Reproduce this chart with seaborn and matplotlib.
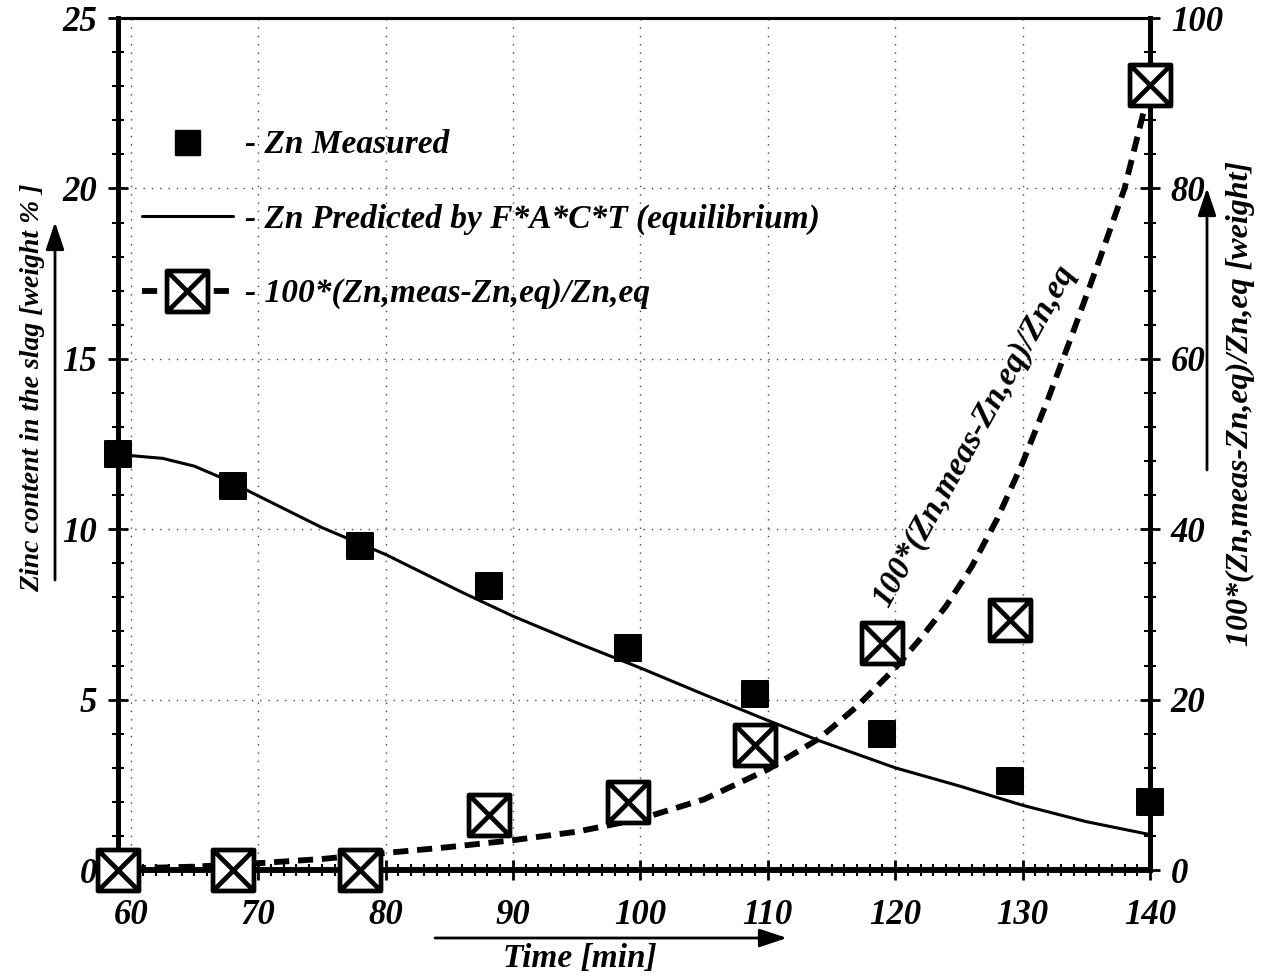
import numpy as np
import pandas as pd
import matplotlib
matplotlib.use("Agg")
import matplotlib.pyplot as plt
from matplotlib.path import Path
from matplotlib.lines import Line2D
from matplotlib.patches import FancyArrowPatch
import seaborn as sns

# ---------------- data ----------------
meas_time = [59.0, 68.0, 78.0, 88.1, 99.0, 109.0, 119.0, 129.0, 140.0]
meas_zn = [12.2, 11.27, 9.51, 8.33, 6.52, 5.18, 3.99, 2.6, 2.0]

pred_time = [59, 60, 62.5, 65, 67.5, 70, 75, 80, 86, 90, 95, 100, 105, 110,
             114, 120, 125, 130, 135, 140]
pred_zn = [12.2, 12.16, 12.08, 11.85, 11.45, 10.98, 10.05, 9.26, 8.15, 7.45,
           6.67, 5.93, 5.15, 4.39, 3.8, 3.0, 2.47, 1.9, 1.42, 1.04]

dev_time = [59.0, 68.0, 78.0, 88.1, 99.0, 109.0, 119.0, 129.0, 140.0]
dev_val = [0.0, 0.0, 0.0, 6.5, 8.0, 14.7, 26.6, 29.3, 92.1]

fit_time = [60, 65, 70, 75, 80, 85, 90, 95, 100, 105, 110, 114, 117, 120,
            122, 124, 126, 128, 130, 132, 134, 136, 138, 139, 140]
fit_val = [0.2, 0.4, 0.8, 1.3, 2.0, 2.7, 3.5, 4.5, 6.0, 8.3, 11.8, 15.4,
           19.2, 23.7, 27.2, 31.0, 35.6, 41.2, 47.8, 55.3, 63.3, 71.5, 80.0,
           86.0, 92.0]

x_ticks = [60, 70, 80, 90, 100, 110, 120, 130, 140]
y_left_ticks = [0, 5, 10, 15, 20, 25]
y_right_ticks = [0, 20, 40, 60, 80, 100]

legend_labels = ["- Zn Measured",
                 "- Zn Predicted by F*A*C*T (equilibrium)",
                 "- 100*(Zn,meas-Zn,eq)/Zn,eq"]
curve_label = "100*(Zn,meas-Zn,eq)/Zn,eq"
left_label = "Zinc content in the slag [weight % ]"
right_label = "100*(Zn,meas-Zn,eq)/Zn,eq [weight]"
x_label = "Time [min]"

# ---------------- style ----------------
sns.set_style("ticks")
plt.rcParams['font.family'] = ['Liberation Serif', 'DejaVu Serif']
plt.rcParams['font.weight'] = 'bold'
plt.rcParams['font.style'] = 'italic'
for k in ['text.color', 'axes.labelcolor', 'xtick.color', 'ytick.color',
          'axes.edgecolor', 'xtick.labelcolor', 'ytick.labelcolor']:
    plt.rcParams[k] = 'black'
FS = 24
TFS = 25

# crossed square marker
box_x = Path([(-1, -1), (1, -1), (1, 1), (-1, 1), (-1, -1),
              (-1, -1), (1, 1), (-1, 1), (1, -1)],
             [Path.MOVETO, Path.LINETO, Path.LINETO, Path.LINETO, Path.CLOSEPOLY,
              Path.MOVETO, Path.LINETO, Path.MOVETO, Path.LINETO])

fig = plt.figure(figsize=(12.73, 9.8), dpi=100)
ax = fig.add_axes([0.0927, 0.1122, 0.8107, 0.8694])
ax2 = ax.twinx()

df_meas = pd.DataFrame({"t": meas_time, "zn": meas_zn})
df_pred = pd.DataFrame({"t": pred_time, "zn": pred_zn})
df_dev = pd.DataFrame({"t": dev_time, "v": dev_val})
df_fit = pd.DataFrame({"t": fit_time, "v": fit_val})

# grid
for xv in x_ticks[:-1]:
    ax.axvline(xv, color='#444444', lw=1.0, ls=(0, (1, 5)), zorder=0)
for yv in y_left_ticks[1:-1]:
    ax.axhline(yv, color='#444444', lw=1.0, ls=(0, (1, 5)), zorder=0)

sns.lineplot(data=df_pred, x="t", y="zn", ax=ax, color='black', lw=2.2,
             legend=False, zorder=3)
sns.scatterplot(data=df_meas, x="t", y="zn", ax=ax, marker='s', s=330,
                color='black', edgecolor='black', legend=False, zorder=4,
                clip_on=False)

sns.lineplot(data=df_fit, x="t", y="v", ax=ax2, color='black', lw=4.2,
             legend=False, zorder=3)
ax2.lines[-1].set_linestyle((0, (2.6, 1.5)))
sns.scatterplot(data=df_dev, x="t", y="v", ax=ax2, marker=box_x, s=870,
                facecolor='white', edgecolor='black', linewidth=3.4,
                legend=False, zorder=5, clip_on=False)

ax.set_xlim(59, 140)
ax.set_ylim(0, 25)
ax2.set_ylim(0, 100)
ax.set_xticks(x_ticks)
ax.set_xticks(np.arange(59, 141, 1), minor=True)
ax.set_yticks(y_left_ticks)
ax.set_yticks(np.arange(0, 26, 1), minor=True)
ax2.set_yticks(y_right_ticks)
ax2.set_yticks(np.arange(0, 101, 4), minor=True)
ax.set_xlabel("")
ax.set_ylabel("")
ax2.set_ylabel("")

for a in (ax, ax2):
    a.tick_params(which='major', direction='inout', length=14, width=2,
                  labelsize=TFS, color='black', labelcolor='black')
    a.tick_params(which='minor', direction='inout', length=8, width=1.5,
                  color='black')
    for s in a.spines.values():
        s.set_color('black')
    a.spines['left'].set_linewidth(3.5)
    a.spines['right'].set_linewidth(3.5)
    a.spines['bottom'].set_linewidth(4)
    a.spines['top'].set_linewidth(2.2)
    a.spines['top'].set_visible(True)
    a.spines['right'].set_visible(True)
ax.tick_params(axis='x', pad=14)
ax.tick_params(axis='y', pad=8)
ax2.tick_params(axis='y', pad=8)
for lab in ax.get_xticklabels() + ax.get_yticklabels() + ax2.get_yticklabels():
    lab.set_fontweight('bold')
    lab.set_fontstyle('italic')

# legend
h1 = Line2D([], [], ls='none', marker='s', ms=18, color='black')
h2 = Line2D([], [], ls='-', lw=2.2, color='black')
h3 = Line2D([], [], ls=(0, (2.6, 1.5)), lw=4.2, color='black', marker=box_x,
            ms=29.5, mfc='white', mec='black', mew=3.4)
leg = ax.legend([h1, h2, h3], legend_labels, loc='upper left',
                bbox_to_anchor=(0.01, 0.885), frameon=False, handlelength=2.75,
                handletextpad=0.35, labelspacing=1.3, borderaxespad=0,
                prop={'family': 'Liberation Serif', 'weight': 'bold',
                      'style': 'italic', 'size': FS})

# annotation along the curve
ax2.text(126.2, 51.0, curve_label, rotation=61, ha='center', va='center',
         fontsize=FS, fontweight='bold', fontstyle='italic', zorder=6)

# axis labels with arrows
fig.text(33 / 1273, 1 - 388 / 980, left_label, rotation=90, ha='center',
         va='center', fontsize=20, fontweight='bold', fontstyle='italic')
fig.text(1240 / 1273, 1 - 403 / 980, right_label, rotation=90, ha='center',
         va='center', fontsize=23, fontweight='bold', fontstyle='italic')
fig.text(580 / 1273, 1 - 958 / 980, x_label, ha='center', va='center',
         fontsize=24, fontweight='bold', fontstyle='italic')

arrow = dict(arrowstyle='-|>,head_length=1.2,head_width=0.4', color='black',
             lw=2.0, shrinkA=0, shrinkB=0, mutation_scale=14)
fig.add_artist(FancyArrowPatch((55 / 1273, 1 - 580 / 980),
                               (55 / 1273, 1 - 222 / 980),
                               transform=fig.transFigure, **arrow))
fig.add_artist(FancyArrowPatch((1207 / 1273, 1 - 470 / 980),
                               (1207 / 1273, 1 - 188 / 980),
                               transform=fig.transFigure, **arrow))
fig.add_artist(FancyArrowPatch((435 / 1273, 1 - 938 / 980),
                               (787 / 1273, 1 - 938 / 980),
                               transform=fig.transFigure, **arrow))

fig.savefig("out.png", dpi=100, facecolor='white')
